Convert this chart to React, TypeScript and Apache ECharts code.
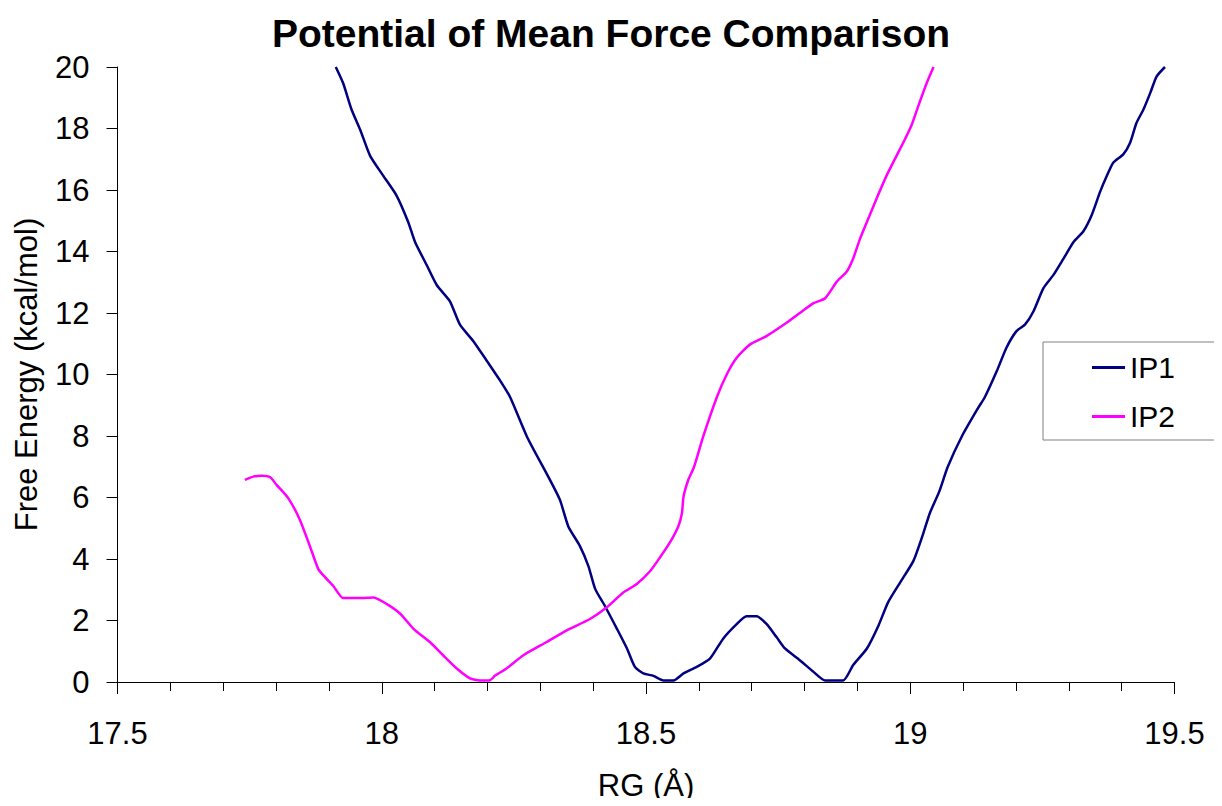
import React, { useEffect, useRef } from "react";
import * as echarts from "echarts";

const TITLE = "Potential of Mean Force Comparison";
const X_NAME = "RG (Å)";
const Y_NAME = "Free Energy (kcal/mol)";
const SERIES_NAMES = ["IP1", "IP2"];

const IP1_X = [
  17.913, 17.927, 17.943, 17.959, 17.978, 18.003, 18.028, 18.05, 18.063, 18.085,
  18.104, 18.129, 18.148, 18.173, 18.199, 18.224, 18.243, 18.275, 18.315, 18.337,
  18.353, 18.375, 18.391, 18.404, 18.422, 18.445, 18.464, 18.479, 18.495, 18.514,
  18.533, 18.552, 18.571, 18.596, 18.621, 18.646, 18.672, 18.69, 18.709, 18.728,
  18.747, 18.763, 18.791, 18.817, 18.839, 18.873, 18.892, 18.918, 18.94, 18.958,
  18.981, 19.006, 19.025, 19.037, 19.055, 19.071, 19.098, 19.128, 19.141, 19.164,
  19.182, 19.201, 19.217, 19.233, 19.252, 19.271, 19.29, 19.309, 19.327, 19.343,
  19.359, 19.372, 19.384, 19.403, 19.416, 19.428, 19.441, 19.454, 19.466, 19.482,
];
const IP1_Y = [
  20.0, 19.47, 18.61, 17.97, 17.11, 16.46, 15.82, 14.96, 14.31, 13.56,
  12.91, 12.38, 11.62, 11.09, 10.44, 9.8, 9.26, 7.97, 6.68, 5.93,
  5.06, 4.42, 3.77, 3.02, 2.48, 1.73, 1.09, 0.49, 0.28, 0.2,
  0.05, 0.05, 0.28, 0.49, 0.76, 1.41, 1.89, 2.14, 2.14, 1.89,
  1.46, 1.09, 0.71, 0.33, 0.05, 0.05, 0.55, 1.09, 1.84, 2.59,
  3.24, 3.94, 4.85, 5.49, 6.2, 7.0, 8.0, 8.9, 9.26, 10.12,
  10.87, 11.41, 11.62, 12.05, 12.81, 13.24, 13.77, 14.31, 14.64, 15.17,
  15.93, 16.46, 16.89, 17.16, 17.54, 18.18, 18.61, 19.15, 19.69, 20.0,
];

const IP2_X = [
  17.741, 17.757, 17.773, 17.789, 17.801, 17.823, 17.845, 17.864, 17.88, 17.893,
  17.908, 17.927, 17.959, 17.984, 18.009, 18.035, 18.06, 18.091, 18.116, 18.142,
  18.167, 18.186, 18.205, 18.214, 18.236, 18.268, 18.312, 18.35, 18.394, 18.426,
  18.457, 18.482, 18.508, 18.526, 18.545, 18.561, 18.568, 18.571, 18.58, 18.591,
  18.608, 18.634, 18.653, 18.672, 18.697, 18.728, 18.766, 18.791, 18.817, 18.839,
  18.861, 18.88, 18.892, 18.905, 18.918, 18.936, 18.955, 18.974, 18.99, 19.003,
  19.015, 19.031, 19.044,
];
const IP2_Y = [
  6.57, 6.68, 6.71, 6.66, 6.41, 5.98, 5.28, 4.42, 3.67, 3.4,
  3.13, 2.73, 2.73, 2.75, 2.54, 2.22, 1.73, 1.3, 0.87, 0.44,
  0.12, 0.05, 0.06, 0.2, 0.44, 0.87, 1.3, 1.68, 2.05, 2.43,
  2.91, 3.18, 3.61, 4.04, 4.53, 5.06, 5.49, 6.03, 6.57, 7.0,
  7.97, 9.26, 10.01, 10.55, 10.98, 11.25, 11.68, 12.0, 12.32, 12.48,
  13.02, 13.35, 13.77, 14.42, 14.96, 15.71, 16.46, 17.11, 17.65, 18.13,
  18.72, 19.47, 20.0,
];

const FONT = "'Liberation Sans', Arial, Helvetica, sans-serif";

function zip(xs: number[], ys: number[]) {
  return xs.map((x, i) => [x, ys[i]]);
}

export default function App() {
  const ref = useRef<HTMLDivElement>(null);
  useEffect(() => {
    if (!ref.current) return;
    const chart = echarts.init(ref.current, undefined, { renderer: "svg" });
    chart.setOption({
      animation: false,
      backgroundColor: "#ffffff",
      title: {
        text: TITLE,
        left: "center",
        top: 9,
        textStyle: { fontFamily: FONT, fontSize: 39, fontWeight: "bold", color: "#000" },
      },
      legend: {
        orient: "vertical",
        left: 1043,
        top: 342,
        padding: [10, 56, 8, 49],
        itemGap: 18,
        itemWidth: 33,
        itemHeight: 3,
        icon: "rect",
        borderColor: "#808080",
        borderWidth: 1,
        backgroundColor: "#fff",
        textStyle: { fontFamily: FONT, fontSize: 30, color: "#000", lineHeight: 31 },
        data: SERIES_NAMES,
      },
      grid: { left: 117.5, right: 47.5, top: 67, bottom: 119 },
      xAxis: {
        type: "value",
        min: 17.5,
        max: 19.5,
        interval: 0.5,
        name: X_NAME,
        nameLocation: "middle",
        nameGap: 88,
        nameTextStyle: { fontFamily: FONT, fontSize: 31, color: "#000" },
        axisLine: { show: true, lineStyle: { color: "#000", width: 1 } },
        axisTick: { show: true, length: 12, lineStyle: { color: "#000" } },
        minorTick: { show: true, splitNumber: 5, length: 9, lineStyle: { color: "#000" } },
        splitLine: { show: false },
        axisLabel: { margin: 36, fontFamily: FONT, fontSize: 31, color: "#000" },
      },
      yAxis: {
        type: "value",
        min: 0,
        max: 20,
        interval: 2,
        name: Y_NAME,
        nameLocation: "middle",
        nameGap: 76,
        nameTextStyle: { fontFamily: FONT, fontSize: 31, color: "#000" },
        axisLine: { show: true, lineStyle: { color: "#000", width: 1 } },
        axisTick: { show: true, length: 11, lineStyle: { color: "#000" } },
        splitLine: { show: false },
        axisLabel: { margin: 28, fontFamily: FONT, fontSize: 31, color: "#000" },
      },
      series: [
        {
          name: SERIES_NAMES[0],
          type: "line",
          data: zip(IP1_X, IP1_Y),
          symbol: "none",
          smooth: 0.2,
          color: "#000080",
          lineStyle: { color: "#000080", width: 2.5 },
        },
        {
          name: SERIES_NAMES[1],
          type: "line",
          data: zip(IP2_X, IP2_Y),
          symbol: "none",
          smooth: 0.2,
          color: "#ff00ff",
          lineStyle: { color: "#ff00ff", width: 2.5 },
        },
      ],
    });
    return () => chart.dispose();
  }, []);
  return <div ref={ref} style={{ width: 1222, height: 806, margin: -8 }} />;
}
